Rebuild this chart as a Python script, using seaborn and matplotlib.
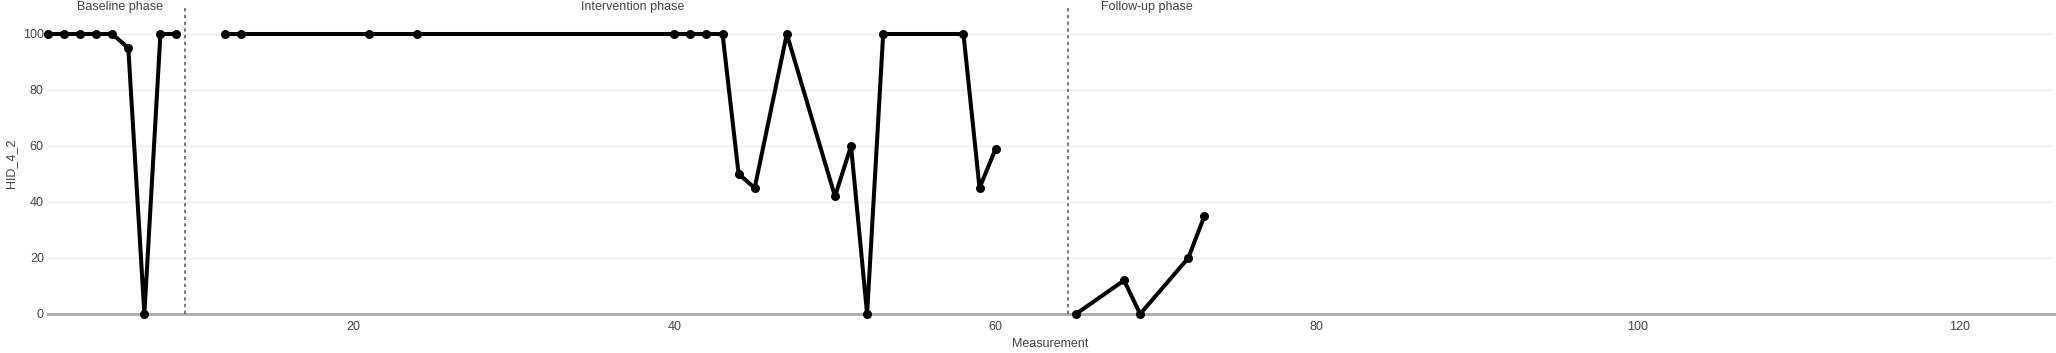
import matplotlib
matplotlib.use("Agg")
import matplotlib.pyplot as plt
import seaborn as sns
import pandas as pd

# ---- data ----
baseline_x = [1, 2, 3, 4, 5, 6, 7, 8, 9]
baseline_y = [100, 100, 100, 100, 100, 95, 0, 100, 100]
intervention_x = [12, 13, 21, 24, 40, 41, 42, 43, 44, 45, 47, 50, 51, 52, 53, 58, 59, 60]
intervention_y = [100, 100, 100, 100, 100, 100, 100, 100, 50, 45, 100, 42, 60, 0, 100, 100, 45, 59]
followup_x = [65, 68, 69, 72, 73]
followup_y = [0, 12, 0, 20, 35]
phase_names = ["Baseline phase", "Intervention phase", "Follow-up phase"]
phase_label_x = [5.5, 37.4, 69.4]
phase_boundaries = [9.5, 64.5]
y_ticks = [0, 20, 40, 60, 80, 100]
x_ticks = [20, 40, 60, 80, 100, 120]

frames = []
for name, xs, ys in zip(phase_names, [baseline_x, intervention_x, followup_x],
                        [baseline_y, intervention_y, followup_y]):
    frames.append(pd.DataFrame({"Measurement": xs, "HID_4_2": ys, "phase": name}))
df = pd.concat(frames, ignore_index=True)

sns.set_theme(style="white")
plt.rcParams['font.family'] = ['Liberation Sans', 'DejaVu Sans']

W, H = 2056, 353
fig = plt.figure(figsize=(W / 100, H / 100), dpi=100)
ax_left, ax_right, ax_top, ax_bot = 48, 2054, 6, 314
ax = fig.add_axes([ax_left / W, 1 - ax_bot / H, (ax_right - ax_left) / W, (ax_bot - ax_top) / H])

for name in phase_names:
    sub = df[df["phase"] == name]
    sns.lineplot(data=sub, x="Measurement", y="HID_4_2", ax=ax, color="black",
                 linewidth=2.9, marker="o", markersize=6.5, markeredgecolor="black",
                 markeredgewidth=0, legend=False, clip_on=False, zorder=5)

ax.set_xlim(1, 125.9)
ax.set_ylim(0, 110)
ax.set_yticks(y_ticks)
ax.set_xticks(x_ticks)
ax.grid(axis="y", color="#eeeeee", linewidth=1)
ax.grid(axis="x", visible=False)
for s in ["top", "right", "left"]:
    ax.spines[s].set_visible(False)
ax.spines["bottom"].set_color("#aaaaaa")
ax.spines["bottom"].set_linewidth(2)
ax.spines["bottom"].set_zorder(1)
ax.tick_params(axis="both", length=0, labelsize=9, labelcolor="#444444")
ax.tick_params(axis="y", pad=3)
ax.tick_params(axis="x", pad=5)

for b in phase_boundaries:
    ax.axvline(b, color="#555555", linewidth=1.1, linestyle=(0, (2.2, 2.2)), zorder=2)

for name, px in zip(phase_names, phase_label_x):
    ax.text(px, 1.0 - 1 / (ax_bot - ax_top), name, transform=ax.get_xaxis_transform(),
            ha="center", va="center", fontsize=9, color="#444444")

ax.set_xlabel("Measurement", fontsize=9, color="#444444")
ax.set_ylabel("HID_4_2", fontsize=9, color="#444444")
ax.xaxis.set_label_coords((1050 - ax_left) / (ax_right - ax_left), (ax_bot - 344) / (ax_bot - ax_top))
ax.xaxis.label.set_va("center")
ax.yaxis.set_label_coords((11 - ax_left) / (ax_right - ax_left), (ax_bot - 163) / (ax_bot - ax_top))
ax.yaxis.label.set_va("center")

fig.savefig("out.png", dpi=100, facecolor="white")
